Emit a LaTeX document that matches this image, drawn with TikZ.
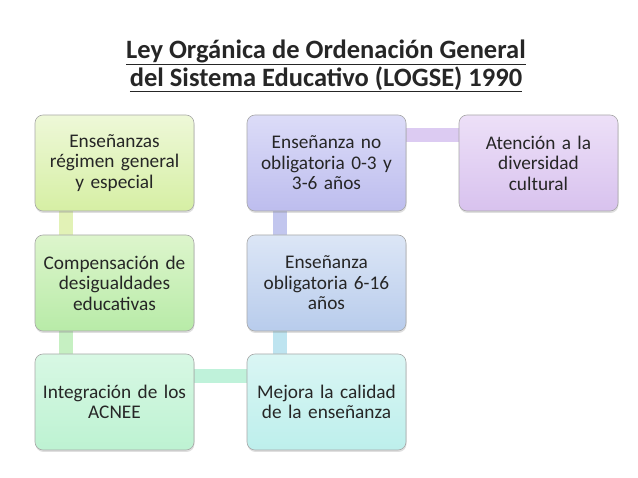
\documentclass[tikz,border=0pt]{standalone}
\usepackage{fontspec}
\setmainfont{Carlito}
\usepackage{tikz}
\usetikzlibrary{shadows,backgrounds}
% box fills (top, bottom)
\definecolor{limeTop}{HTML}{EEF8D8}
\definecolor{limeBot}{HTML}{D6EFA4}
\definecolor{greenTop}{HTML}{DDF5CC}
\definecolor{greenBot}{HTML}{B8EBA8}
\definecolor{mintTop}{HTML}{D8F8E4}
\definecolor{mintBot}{HTML}{BDF2D2}
\definecolor{aquaTop}{HTML}{DAF6F4}
\definecolor{aquaBot}{HTML}{BDEFEC}
\definecolor{skyTop}{HTML}{DCE6F6}
\definecolor{skyBot}{HTML}{B8CCEC}
\definecolor{lavTop}{HTML}{DCDCF8}
\definecolor{lavBot}{HTML}{BDBDEE}
\definecolor{lilacTop}{HTML}{EDE0F8}
\definecolor{lilacBot}{HTML}{D8C2EE}
% connector bars
\definecolor{barLime}{HTML}{E2F2B6}
\definecolor{barGreen}{HTML}{C6F0C2}
\definecolor{barMint}{HTML}{BFF2DA}
\definecolor{barAqua}{HTML}{BEE4F0}
\definecolor{barSky}{HTML}{C2C6EE}
\definecolor{barLilac}{HTML}{DCCBF2}
\definecolor{edgeGray}{HTML}{A8A8A8}
\definecolor{txt}{HTML}{262626}

\begin{document}
\begin{tikzpicture}[x=1pt,y=-1pt,
  box/.style={draw=edgeGray,line width=0.6pt,rounded corners=8pt,
    minimum width=159pt,minimum height=96pt,text width=156pt,align=center,
    inner sep=0pt,text=txt,font=\fontsize{19.3}{20.5}\selectfont,
    drop shadow={shadow xshift=0.5pt,shadow yshift=-2pt,opacity=0.25}},
  bar/.style={line width=14pt}]
  \useasboundingbox (0,0) rectangle (638,478);
  % title
  \node[font=\fontsize{26.5}{28}\selectfont\bfseries,text=txt,align=center] (titulo) at (326,66)
    {\underline{Ley Orgánica de Ordenación General}\\\underline{del Sistema Educativo (LOGSE) 1990}};
  % left column
  \node[box,top color=limeTop,bottom color=limeBot] (ensGeneral) at (114.5,163)
    {Enseñanzas\\régimen general\\y especial};
  \node[box,top color=greenTop,bottom color=greenBot] (compensacion) at (114.5,283)
    {Compensación de\\desigualdades\\educativas};
  \node[box,top color=mintTop,bottom color=mintBot] (integracion) at (114.5,402)
    {Integración de los\\ACNEE};
  % middle column
  \node[box,top color=aquaTop,bottom color=aquaBot] (mejora) at (326.5,402)
    {Mejora la calidad\\de la enseñanza};
  \node[box,top color=skyTop,bottom color=skyBot] (obligatoria) at (326.5,283)
    {Enseñanza\\obligatoria 6-16\\años};
  \node[box,top color=lavTop,bottom color=lavBot] (noObligatoria) at (326.5,163)
    {Enseñanza no\\obligatoria 0-3 y\\3-6 años};
  % right column
  \node[box,top color=lilacTop,bottom color=lilacBot] (diversidad) at (538.5,163)
    {Atención a la\\diversidad\\cultural};
  % connectors
  \begin{scope}[on background layer]
    \draw[bar,barLime] ([xshift=31pt]ensGeneral.south west) -- ([xshift=31pt]compensacion.north west);
    \draw[bar,barGreen] ([xshift=31pt]compensacion.south west) -- ([xshift=31pt]integracion.north west);
    \draw[bar,barMint] ([yshift=-22pt]integracion.north east) -- ([yshift=-22pt]mejora.north west);
    \draw[bar,barAqua] ([xshift=33pt]mejora.north west) -- ([xshift=33pt]obligatoria.south west);
    \draw[bar,barSky] ([xshift=33pt]obligatoria.north west) -- ([xshift=33pt]noObligatoria.south west);
    \draw[bar,barLilac] ([yshift=-20pt]noObligatoria.north east) -- ([yshift=-20pt]diversidad.north west);
  \end{scope}
\end{tikzpicture}
\end{document}
